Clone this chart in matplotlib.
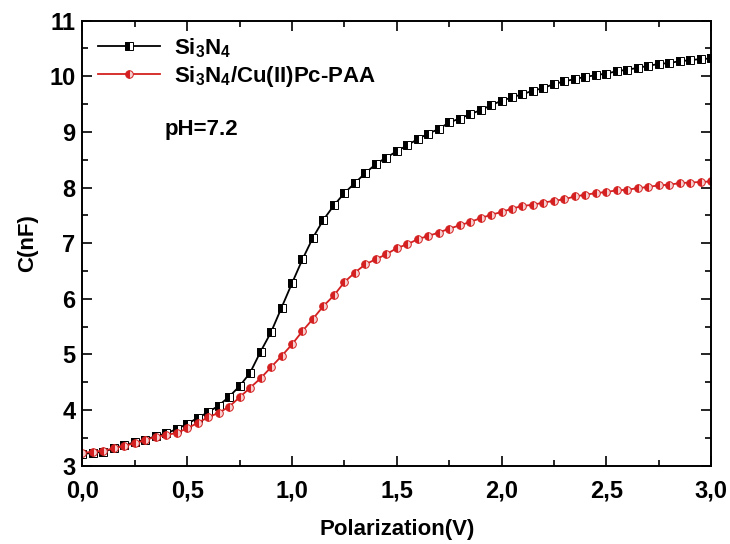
import matplotlib
matplotlib.use('Agg')
import matplotlib.pyplot as plt
from matplotlib.ticker import MultipleLocator, FuncFormatter

#-----------------------Data--------------------------
polarization = [i * 0.05 for i in range(61)]

cap_si3n4 = [3.21, 3.23, 3.25, 3.31, 3.37, 3.42, 3.47, 3.53, 3.58, 3.66,
             3.75, 3.86, 3.96, 4.08, 4.24, 4.43, 4.67, 5.05, 5.40, 5.84,
             6.28, 6.71, 7.10, 7.42, 7.68, 7.90, 8.08, 8.26, 8.42, 8.54,
             8.65, 8.76, 8.87, 8.97, 9.05, 9.17, 9.24, 9.32, 9.39, 9.48,
             9.56, 9.62, 9.68, 9.74, 9.79, 9.86, 9.91, 9.95, 9.99, 10.02,
             10.05, 10.09, 10.12, 10.15, 10.19, 10.22, 10.24, 10.27, 10.29, 10.31,
             10.32]

cap_cupc = [3.23, 3.25, 3.27, 3.31, 3.36, 3.40, 3.46, 3.52, 3.55, 3.59,
            3.67, 3.77, 3.87, 3.95, 4.06, 4.23, 4.40, 4.57, 4.77, 4.97,
            5.18, 5.42, 5.64, 5.87, 6.06, 6.30, 6.47, 6.62, 6.71, 6.80,
            6.91, 6.98, 7.07, 7.13, 7.19, 7.26, 7.32, 7.38, 7.45, 7.51,
            7.56, 7.62, 7.67, 7.69, 7.73, 7.76, 7.79, 7.84, 7.87, 7.90,
            7.92, 7.95, 7.96, 7.99, 8.01, 8.04, 8.05, 8.08, 8.09, 8.10,
            8.11]

labels = ['Si$_3$N$_4$', 'Si$_3$N$_4$/Cu(II)Pc-PAA']
#-----------------------------------------------------

plt.rcParams['font.family'] = ['Liberation Sans', 'DejaVu Sans']
plt.rcParams['font.weight'] = 'bold'
plt.rcParams['mathtext.fontset'] = 'custom'
plt.rcParams['mathtext.rm'] = 'Liberation Sans:bold'
plt.rcParams['mathtext.default'] = 'rm'

fig = plt.figure(figsize=(7.3, 5.44), dpi=100)
ax = fig.add_axes([0.113, 0.144, 0.861, 0.818])

ax.plot(polarization, cap_si3n4, color='black', lw=1.3, marker='s', ms=5.2,
        fillstyle='left', markerfacecolor='black', markerfacecoloralt='white',
        markeredgecolor='black', markeredgewidth=0.7, label=labels[0])
ax.plot(polarization, cap_cupc, color='#d42020', lw=1.3, marker='o', ms=5.5,
        fillstyle='left', markerfacecolor='#d42020', markerfacecoloralt='#f6d0d0',
        markeredgecolor='#d42020', markeredgewidth=0.7, label=labels[1])

ax.set_xlim(0, 3.0)
ax.set_ylim(3, 11)
ax.xaxis.set_major_locator(MultipleLocator(0.5))
ax.xaxis.set_minor_locator(MultipleLocator(0.25))
ax.yaxis.set_major_locator(MultipleLocator(1))
ax.yaxis.set_minor_locator(MultipleLocator(0.5))
ax.xaxis.set_major_formatter(FuncFormatter(lambda v, p: ('%.1f' % v).replace('.', ',')))
ax.tick_params(which='both', direction='in', top=True, right=True, labelsize=17, width=1.2)
ax.tick_params(which='major', length=7)
ax.tick_params(axis='x', which='major', pad=10)
ax.tick_params(axis='y', which='major', pad=5)
ax.tick_params(which='minor', length=4)
for s in ax.spines.values():
    s.set_linewidth(1.4)

ax.set_xlabel('Polarization(V)', fontsize=16, fontweight='bold', labelpad=12)
ax.set_ylabel('C(nF)', fontsize=16, fontweight='bold', labelpad=8)

ax.legend(loc='upper left', frameon=False, fontsize=16, numpoints=1,
          handlelength=2.8, handletextpad=0.6, borderaxespad=0.3,
          labelspacing=0.2, bbox_to_anchor=(0.0, 1.0))
ax.text(0.39, 8.85, 'pH=7.2', fontsize=16, fontweight='bold', va='bottom')

plt.savefig('out.png', dpi=100)
